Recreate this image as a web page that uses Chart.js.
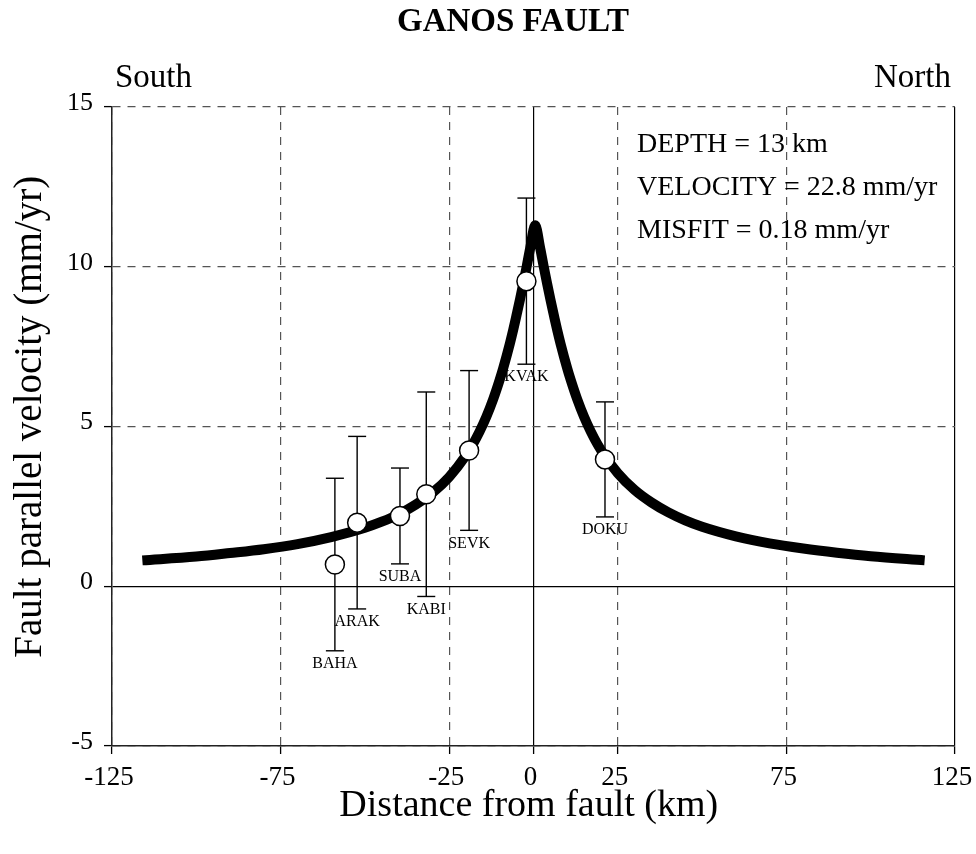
<!DOCTYPE html>
<html>
<head>
<meta charset="utf-8">
<title>Ganos Fault</title>
<script src="https://cdn.jsdelivr.net/npm/chart.js@4/dist/chart.umd.min.js"></script>
<style>
  html, body { margin: 0; padding: 0; background: #fff; }
  #wrap { width: 976px; height: 854px; position: relative; }
</style>
</head>
<body>
<div id="wrap"><canvas id="chart"></canvas></div>
<script>
// model curve (distance km, velocity mm/yr)
const modelX = [-116, -100, -90, -80, -70, -60, -50, -45, -40, -35, -30, -25, -20, -18, -16, -14, -12, -10, -9, -7, -6, -5, -4, -3, -2, -1, 0.5,
  2, 3, 4, 5, 6, 7, 8, 10, 11, 13, 15, 17, 19, 21, 25, 30, 35, 40, 45, 50, 60, 70, 80, 90, 100, 116];
const modelV = [0.81, 0.93, 1.04, 1.16, 1.32, 1.54, 1.83, 2.02, 2.25, 2.55, 2.92, 3.42, 4.10, 4.44, 4.84, 5.30, 5.84, 6.47, 6.82, 7.60, 8.03, 8.50, 8.98, 9.49, 10.02, 10.57, 11.3,
  10.57, 10.02, 9.49, 8.98, 8.50, 8.03, 7.60, 6.82, 6.47, 5.84, 5.30, 4.84, 4.44, 4.10, 3.54, 3.01, 2.62, 2.31, 2.06, 1.86, 1.56, 1.34, 1.18, 1.05, 0.94, 0.81];

// GPS stations
const stations = ['BAHA', 'ARAK', 'SUBA', 'KABI', 'SEVK', 'KVAK', 'DOKU'];
const stationX = [-58.9, -52.3, -39.6, -31.8, -19.1, -2.1, 21.2];
const stationV = [0.68, 1.99, 2.2, 2.88, 4.25, 9.55, 3.97];
const stationErr = [2.7, 2.7, 1.5, 3.2, 2.5, 2.6, 1.8];

const xTicks = [-125, -75, -25, 0, 25, 75, 125];
const yTicks = [-5, 0, 5, 10, 15];
const infoLines = ['DEPTH = 13 km', 'VELOCITY = 22.8 mm/yr', 'MISFIT = 0.18 mm/yr'];

const serif = "'Liberation Serif', 'Times New Roman', serif";
Chart.defaults.font.family = serif;
Chart.defaults.color = '#000';

const curve = modelX.map((x, i) => ({ x, y: modelV[i] }));
const points = stationX.map((x, i) => ({ x, y: stationV[i] }));
const bars = [];
stationX.forEach((x, i) => {
  bars.push({ x, y: stationV[i] - stationErr[i] });
  bars.push({ x, y: stationV[i] + stationErr[i] });
  bars.push({ x, y: null });
});

// station names under the lower whisker, and the loose texts of the figure
const textPlugin = {
  id: 'texts',
  afterDatasetsDraw(chart) {
    const { ctx, scales: { x, y } } = chart;
    ctx.save();
    ctx.fillStyle = '#000';
    ctx.font = '16px ' + serif;
    ctx.textAlign = 'center';
    ctx.textBaseline = 'top';
    stations.forEach((s, i) => {
      ctx.fillText(s, x.getPixelForValue(stationX[i]), y.getPixelForValue(stationV[i] - stationErr[i]) + 5);
    });
    ctx.textBaseline = 'alphabetic';
    ctx.textAlign = 'left';
    ctx.font = '28px ' + serif;
    infoLines.forEach((t, i) => ctx.fillText(t, 637, 152 + i * 43));
    ctx.restore();
  },
  afterDraw(chart) {
    const { ctx } = chart;
    ctx.save();
    ctx.fillStyle = '#000';
    ctx.textBaseline = 'alphabetic';
    ctx.font = 'bold 33px ' + serif;
    ctx.textAlign = 'center';
    ctx.fillText('GANOS FAULT', 513, 31);
    ctx.font = '33px ' + serif;
    ctx.textAlign = 'left';
    ctx.fillText('South', 115, 87);
    ctx.textAlign = 'right';
    ctx.fillText('North', 951, 87);
    ctx.restore();
  }
};

const solidAt = (vals) => (c) => (c.type === 'tick' && !vals.includes(c.tick.value)) ? [8, 7] : [];
const colorAt = (vals) => (c) => (c.tick && vals.includes(c.tick.value)) ? '#000' : '#555';

new Chart(document.getElementById('chart'), {
  type: 'scatter',
  data: {
    datasets: [
      { label: 'stations', data: points, order: 0, pointRadius: 9.5, pointBorderWidth: 1.5,
        pointBackgroundColor: '#fff', pointBorderColor: '#000' },
      { label: 'errors', type: 'line', data: bars, order: 1, showLine: true, spanGaps: false,
        borderColor: '#000', borderWidth: 1.4, pointStyle: 'line', pointRadius: 9,
        pointBorderWidth: 1.4, pointBorderColor: '#000' },
      { label: 'model', type: 'line', data: curve, order: 2, borderColor: '#000', borderWidth: 10,
        pointRadius: 0, cubicInterpolationMode: 'monotone', borderJoinStyle: 'round', borderCapStyle: 'butt' }
    ]
  },
  options: {
    responsive: true,
    maintainAspectRatio: false,
    animation: false,
    layout: { padding: { top: 107, right: 21, left: 0, bottom: 0 } },
    plugins: { legend: { display: false }, tooltip: { enabled: false } },
    scales: {
      x: {
        type: 'linear', min: -125, max: 125,
        afterBuildTicks: s => { s.ticks = xTicks.map(v => ({ value: v })); },
        afterFit: s => { s.height = 108; s.paddingRight = 19; },
        ticks: { font: { size: 27 }, padding: 8, labelOffset: -3, maxRotation: 0 },
        grid: { color: colorAt([0, 125]), lineWidth: 1.2, tickLength: 8, tickColor: '#000',
          tickWidth: 1.3, tickBorderDash: [] },
        border: { display: true, color: '#222', width: 1.5, dash: solidAt([0, 125]) },
        title: { display: true, text: 'Distance from fault (km) ', font: { size: 38 },
          padding: { top: 0, bottom: 25 } }
      },
      y: {
        type: 'linear', min: -5, max: 15,
        afterBuildTicks: s => { s.ticks = yTicks.map(v => ({ value: v })); },
        afterFit: s => { s.width = 112; },
        ticks: { font: { size: 26 }, padding: 11, labelOffset: -4 },
        grid: { color: colorAt([0]), lineWidth: 1.2, tickLength: 8, tickColor: '#000',
          tickWidth: 1.3, tickBorderDash: [] },
        border: { display: true, color: '#222', width: 1.5, dash: solidAt([0]) },
        title: { display: true, text: '  Fault parallel velocity (mm/yr)', font: { size: 39 },
          padding: { top: 7, bottom: 0 } }
      }
    }
  },
  plugins: [textPlugin]
});
</script>
</body>
</html>
